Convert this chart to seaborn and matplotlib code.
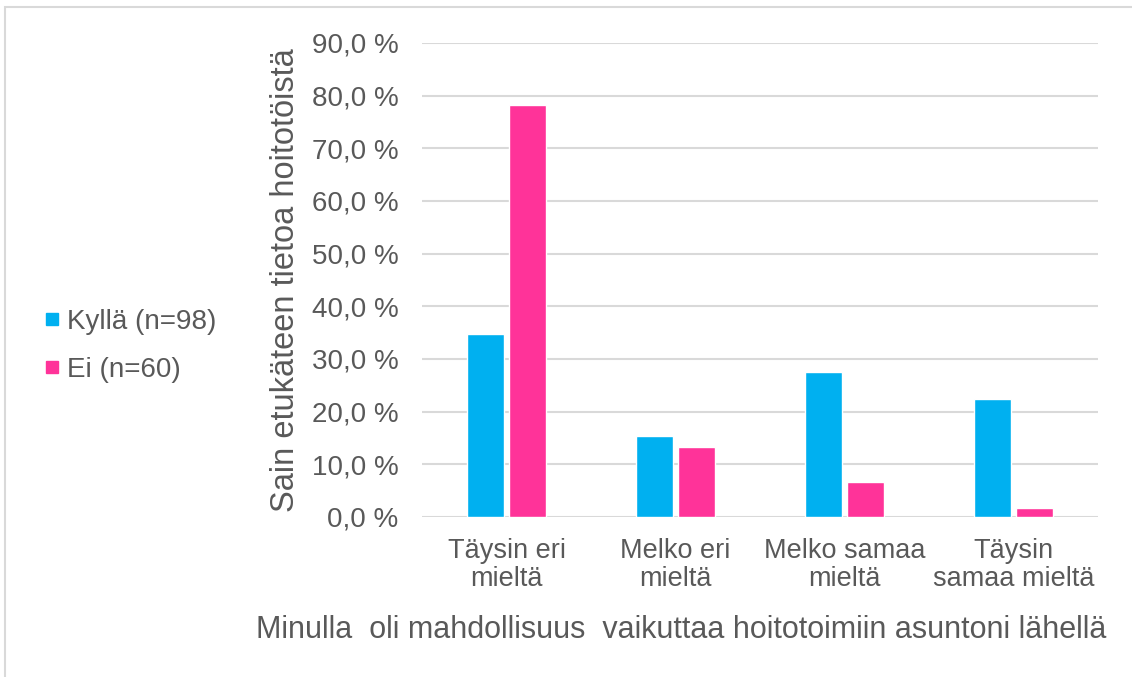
import matplotlib
matplotlib.use('Agg')

import matplotlib.pyplot as plt
import matplotlib.patches as mpatches
from matplotlib.lines import Line2D
import pandas as pd
import seaborn as sns

# Data
categories = ['Täysin eri\nmieltä', 'Melko eri\nmieltä', 'Melko samaa\nmieltä', 'Täysin\nsamaa mieltä']
groups = ['Kyllä (n=98)', 'Ei (n=60)']
kylla = [34.7, 15.3, 27.6, 22.4]
ei = [78.3, 13.3, 6.7, 1.7]
yticks = [0, 10, 20, 30, 40, 50, 60, 70, 80, 90]

colors = ['#00B0F0', '#FF3399']
text_col = '#595959'

df = pd.DataFrame({
    'kategoria': categories * 2,
    'ryhma': [groups[0]] * 4 + [groups[1]] * 4,
    'osuus': kylla + ei,
})

sns.set_theme(style='white')
plt.rcParams['font.family'] = ['Liberation Sans', 'DejaVu Sans']

fig = plt.figure(figsize=(11.32, 6.77), dpi=100)
ax = fig.add_axes([422 / 1132, 1 - 517 / 677, 676 / 1132, 474 / 677])

sns.barplot(data=df, x='kategoria', y='osuus', hue='ryhma', palette=colors,
            width=0.5, gap=0.13, ax=ax, legend=False, saturation=1)

ax.set_ylim(0, 90)
ax.set_xlim(-0.5, 3.5)
ax.set_yticks(yticks)
ax.set_yticklabels([f'{v:.1f} %'.replace('.', ',') for v in yticks])
ax.yaxis.grid(True, color='#d9d9d9', linewidth=1.5)
ax.set_axisbelow(True)
for s in ax.spines.values():
    s.set_visible(False)
ax.tick_params(axis='y', length=0, pad=17, labelsize=20, labelcolor=text_col)
ax.tick_params(axis='x', length=0, pad=15, labelsize=19.5, labelcolor=text_col)
for lbl in ax.get_xticklabels():
    lbl.set_linespacing(1.12)
ax.set_xlabel('')
ax.set_ylabel('Sain etukäteen tietoa hoitotöistä', fontsize=23.5, color=text_col, labelpad=8)

fig.text(681 / 1132, 1 - 630 / 677, 'Minulla  oli mahdollisuus  vaikuttaa hoitotoimiin asuntoni lähellä',
         ha='center', va='center', fontsize=22, color=text_col)

handles = [Line2D([0], [0], marker='s', linestyle='', markersize=9, color=c) for c in colors]
fig.legend(handles, groups, loc='center left', bbox_to_anchor=(13 / 1132, 1 - 346 / 677),
           frameon=False, fontsize=20, labelcolor=text_col, handletextpad=0.05,
           labelspacing=0.8, handlelength=1.0)

# chart border
fig.patches.append(mpatches.Rectangle((5 / 1132, -0.1), 1.2, 1 - 7 / 677 + 0.1,
                                      transform=fig.transFigure, fill=False,
                                      edgecolor='#d9d9d9', linewidth=1.5))

fig.savefig('out.png', dpi=100)
